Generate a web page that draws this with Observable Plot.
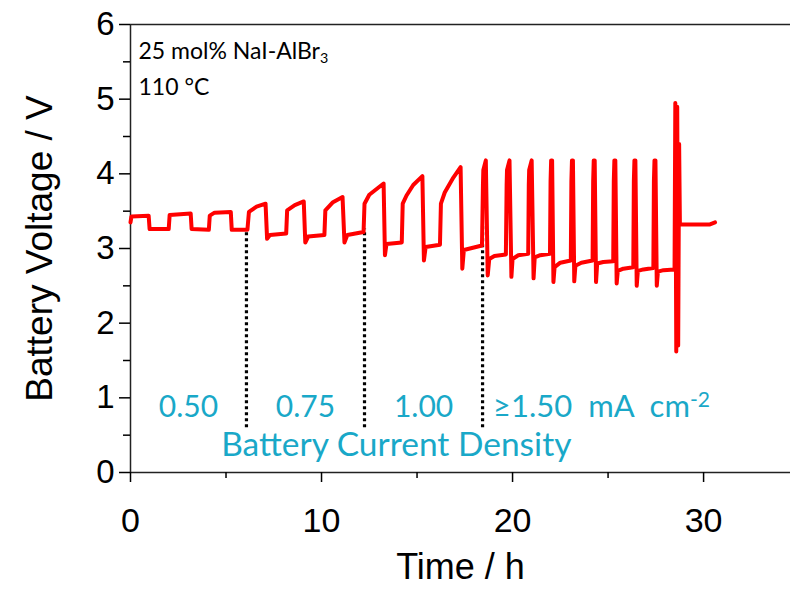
<!DOCTYPE html>
<html><head><meta charset="utf-8">
<script src="https://cdn.jsdelivr.net/npm/d3@7"></script>
<script src="https://cdn.jsdelivr.net/npm/@observablehq/plot@0.6"></script>
<style>html,body{margin:0;padding:0;background:#fff}svg{display:block}</style>
</head><body><div id="chart"></div>
<script>
// Galvanostatic cycling trace: time (h) and battery voltage (V)
const time = [
  0, 0.05, 0.95, 1.0, 2.0, 2.05, 3.15, 3.2, 4.1, 4.15, 4.4, 5.25, 5.3, 6.12,
  6.2, 6.6, 7.07, 7.15, 7.3, 8.15, 8.2, 8.6, 9.07, 9.15, 9.3, 10.15, 10.2, 10.6, 11.1, 11.2, 11.35, 12.2,
  12.25, 12.5, 13.25, 13.32, 13.4, 14.2, 14.25, 14.45, 14.8, 15.28, 15.36, 15.45, 16.2, 16.25, 16.45, 16.9, 17.28, 17.37, 17.45, 18.4,
  18.45, 18.47, 18.6, 18.7, 18.78, 19.05, 19.65,
  19.69, 19.71, 19.84, 19.94, 20.0, 20.3, 20.82,
  20.85, 20.87, 21.0, 21.1, 21.16, 21.45, 21.96,
  21.99, 22.02, 22.07, 22.14, 22.2, 22.5, 23.05,
  23.08, 23.11, 23.16, 23.23, 23.29, 23.6, 24.19,
  24.22, 24.25, 24.3, 24.37, 24.43, 24.75, 25.27,
  25.3, 25.33, 25.38, 25.45, 25.51, 25.8, 26.32,
  26.35, 26.38, 26.43, 26.5, 26.56, 26.85, 27.37,
  27.4, 27.43, 27.48, 27.55, 27.61, 27.9, 28.48,
  28.52, 28.57, 28.62, 28.67, 28.72, 28.76, 29.5, 30.3, 30.6
];
const voltage = [
  3.35, 3.43, 3.44, 3.26, 3.26, 3.45, 3.47, 3.26, 3.25, 3.44, 3.48, 3.49, 3.25, 3.25,
  3.49, 3.56, 3.60, 3.13, 3.18, 3.20, 3.51, 3.58, 3.63, 3.08, 3.16, 3.18, 3.51, 3.62, 3.69, 3.08, 3.18, 3.22,
  3.60, 3.72, 3.87, 2.91, 3.06, 3.08, 3.60, 3.71, 3.85, 3.97, 2.84, 3.02, 3.05, 3.60, 3.75, 3.95, 4.09, 2.73, 2.98, 3.04,
  3.85, 4.05, 4.18, 2.64, 2.86, 2.90, 2.92,
  3.85, 4.05, 4.18, 2.62, 2.86, 2.91, 2.93,
  3.85, 4.05, 4.18, 2.60, 2.88, 2.91, 2.93,
  3.90, 4.18, 4.18, 2.55, 2.75, 2.81, 2.84,
  3.90, 4.18, 4.18, 2.56, 2.77, 2.81, 2.84,
  3.90, 4.18, 4.18, 2.55, 2.80, 2.82, 2.83,
  3.90, 4.18, 4.18, 2.53, 2.70, 2.73, 2.75,
  3.90, 4.18, 4.18, 2.50, 2.70, 2.72, 2.74,
  3.90, 4.18, 4.18, 2.50, 2.69, 2.71, 2.72,
  4.95, 1.62, 4.90, 1.70, 4.40, 3.32, 3.32, 3.32, 3.35
];
const regimeBounds = [6.07, 12.25, 18.43];
const regimeTops = [3.26, 3.26, 3.30];
const regimeLabels = ["0.50", "0.75", "1.00", "≥1.50 mA cm⁻²"];
const xMajorTicks = [0, 10, 20, 30];
const xMinorTicks = [5, 15, 25, 35];
const yMajorTicks = [0, 1, 2, 3, 4, 5, 6];
const yMinorTicks = [0.5, 1.5, 2.5, 3.5, 4.5, 5.5];

const trace = time.map((t, i) => ({t, v: voltage[i]}));
const dividers = regimeBounds.map((b, i) => ({t: b, top: regimeTops[i]}));
const edges = [0, ...regimeBounds];
const middleLabels = regimeLabels.slice(0, 3).map((label, i) => ({label, t: (edges[i] + edges[i + 1]) / 2}));
const lastLabel = [{label: regimeLabels[3], t: edges[3] + 0.55}];

const cyan = "#19a8c8";
const human = "Lato, 'Open Sans', sans-serif";

const chart = Plot.plot({
  width: 790,
  height: 598,
  marginLeft: 130,
  marginRight: 0,
  marginTop: 24,
  marginBottom: 126,
  style: {fontFamily: "'Liberation Sans', Arial, sans-serif", background: "#fff", color: "#000", overflow: "visible"},
  x: {domain: [0, 34.55]},
  y: {domain: [0, 6]},
  marks: [
    Plot.ruleY([6], {stroke: "#222", strokeWidth: 1.5}),
    Plot.ruleY([0], {stroke: "#222", strokeWidth: 1.5}),
    Plot.ruleX([0], {stroke: "#222", strokeWidth: 1.5}),
    Plot.axisX({ticks: xMajorTicks, tickSize: 10, tickPadding: 25, fontSize: 34, tickFormat: d3.format("d"), label: null, strokeWidth: 1.5}),
    Plot.axisX({ticks: xMinorTicks, tickSize: 6, tickFormat: () => "", label: null, strokeWidth: 1.5}),
    Plot.axisY({ticks: yMajorTicks, tickSize: 11, tickPadding: 5, fontSize: 33, tickFormat: d3.format("d"), label: null, strokeWidth: 1.5}),
    Plot.axisY({ticks: yMinorTicks, tickSize: 7, tickFormat: () => "", label: null, strokeWidth: 1.5}),
    Plot.ruleX(dividers, {x: "t", y1: 0.6, y2: "top", stroke: "#000", strokeWidth: 3.2, strokeDasharray: "3,3"}),
    Plot.line(trace, {x: "t", y: "v", stroke: "#ff0000", strokeWidth: 4, strokeLinejoin: "round", strokeLinecap: "round"}),
    Plot.text(middleLabels, {x: "t", y: 0.87, text: "label", textAnchor: "middle", fill: cyan, fontSize: 30, fontFamily: human}),
    Plot.text(lastLabel, {x: "t", y: 0.87, text: "label", textAnchor: "start", fill: cyan, fontSize: 31, fontFamily: human}),
    Plot.text(["Battery Current Density"], {x: edges[3] * 0.755, y: 0.36, text: d => d, textAnchor: "middle", fill: cyan, fontSize: 33.5, fontFamily: human}),
    Plot.text(["25 mol% NaI-AlBr₃"], {frameAnchor: "top-left", dx: 8, dy: 18, text: d => d, fontSize: 23, fontFamily: human, textAnchor: "start", lineAnchor: "top"}),
    Plot.text(["110 °C"], {frameAnchor: "top-left", dx: 8, dy: 54, text: d => d, fontSize: 23, fontFamily: human, textAnchor: "start", lineAnchor: "top"}),
    Plot.text(["Battery Voltage / V"], {frameAnchor: "left", dx: -90, rotate: -90, textAnchor: "middle", text: d => d, fontSize: 37}),
    Plot.text(["Time / h"], {frameAnchor: "bottom", dy: 106, textAnchor: "middle", text: d => d, fontSize: 36})
  ]
});

// Typeset the sub/superscripts as real tspans (text stays text)
function script(el, base, small, shift, size) {
  while (el.firstChild) el.removeChild(el.firstChild);
  const ns = "http://www.w3.org/2000/svg";
  const a = document.createElementNS(ns, "tspan");
  a.textContent = base;
  const b = document.createElementNS(ns, "tspan");
  b.textContent = small;
  b.setAttribute("font-size", size);
  b.setAttribute("dy", shift);
  el.appendChild(a);
  el.appendChild(b);
}
chart.querySelectorAll("text").forEach(el => {
  const s = el.textContent;
  if (s === "≥1.50 mA cm⁻²") {
    script(el, "≥1.50 mA cm", "-2", "-0.5em", "68%");
    el.setAttribute("word-spacing", "8");
  } else if (s === "25 mol% NaI-AlBr₃") script(el, "25 mol% NaI-AlBr", "3", "0.3em", "62%");
});
document.getElementById("chart").appendChild(chart);
</script>
</body></html>
